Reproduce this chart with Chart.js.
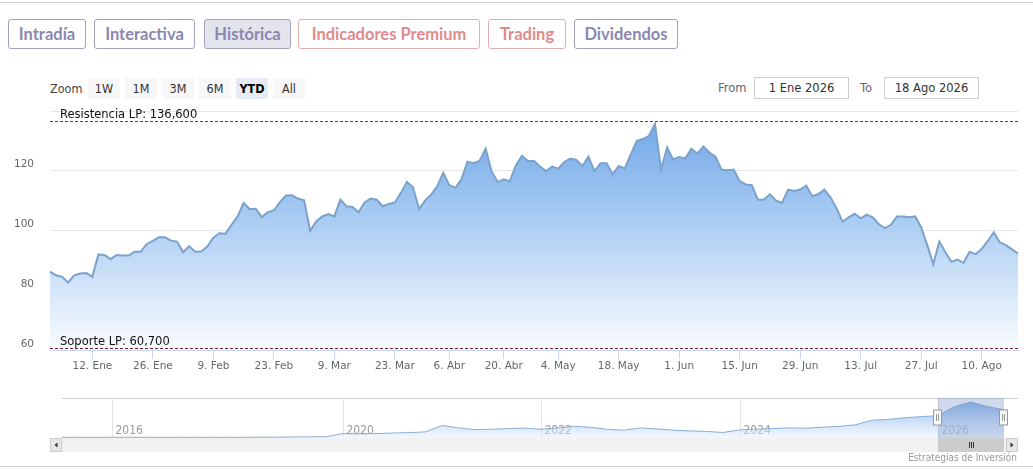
<!DOCTYPE html>
<html>
<head>
<meta charset="utf-8">
<script src="https://cdn.jsdelivr.net/npm/chart.js@4.4.1/dist/chart.umd.min.js"></script>
<style>
  body { margin: 0; background: #fff; width: 1033px; height: 474px; position: relative; overflow: hidden; }
  .hline { position: absolute; left: 0; width: 1033px; height: 1px; background: #d4d4d4; }
  .tab { position: absolute; top: 19px; height: 30px; box-sizing: border-box; border: 1px solid #a3a1bb; border-radius: 3px;
         font: 700 16.5px Lato, "Open Sans", sans-serif; color: #8a87b1; text-align: center; line-height: 28px; }
  .tab.on { background: #e4e4ec; }
  .tab.red { color: #e08b8c; border-color: #e3aeae; }
  .zlab { position: absolute; top: 80px; font: 12.5px "DejaVu Sans Condensed", "DejaVu Sans", sans-serif; color: #444; line-height: 18px; }
  .zbtn { position: absolute; top: 78px; width: 32px; height: 21px; background: #f7f7f7; text-align: center;
          font: 12.5px "DejaVu Sans Condensed", "DejaVu Sans", sans-serif; color: #333; line-height: 21px; }
  .zbtn.on { background: #e6ebf5; font-weight: bold; color: #000; }
  .dlab { position: absolute; top: 79px; font: 11.5px "DejaVu Sans", sans-serif; color: #666; line-height: 18px; }
  .dbox { position: absolute; top: 77px; height: 22px; box-sizing: border-box; border: 1px solid #ccc; background: #fff;
          font: 11.5px "DejaVu Sans", sans-serif; color: #333; text-align: center; line-height: 20px; }
  #credit { position: absolute; top: 452px; right: 16px; font: 10px "Liberation Sans Narrow", "DejaVu Sans Condensed", sans-serif; color: #999; }
</style>
</head>
<body>
<div class="hline" style="top:2px"></div>
<div class="hline" style="top:466px"></div>

<div class="tab" style="left:8px;width:78px">Intradía</div>
<div class="tab" style="left:94px;width:101px">Interactiva</div>
<div class="tab on" style="left:204px;width:87px">Histórica</div>
<div class="tab red" style="left:298px;width:182px">Indicadores Premium</div>
<div class="tab red" style="left:488px;width:78px">Trading</div>
<div class="tab" style="left:574px;width:104px">Dividendos</div>

<div class="zlab" style="left:50px">Zoom</div>
<div class="zbtn" style="left:88px">1W</div>
<div class="zbtn" style="left:125px">1M</div>
<div class="zbtn" style="left:162px">3M</div>
<div class="zbtn" style="left:199px">6M</div>
<div class="zbtn on" style="left:236px">YTD</div>
<div class="zbtn" style="left:273px">All</div>

<div class="dlab" style="left:718px">From</div>
<div class="dbox" style="left:754px;width:95px">1 Ene 2026</div>
<div class="dlab" style="left:860px">To</div>
<div class="dbox" style="left:884px;width:95px">18 Ago 2026</div>

<div style="position:absolute;left:0;top:100px;width:1033px;height:280px"><canvas id="mainChart"></canvas></div>
<div style="position:absolute;left:0;top:396px;width:1033px;height:60px"><canvas id="navChart"></canvas></div>
<div id="credit">Estrategias de Inversión</div>

<script>
// sesiones bursátiles (sin fines de semana ni festivos)
const firstDay = "2025-12-31";
const lastDay = "2026-08-18";
const holidays = ["2026-01-01", "2026-04-03", "2026-04-06", "2026-05-01"];

// cierre diario
const closes = [
  86.2, 85.0, 84.5, 82.6, 85.0, 85.6, 85.8, 84.5, 92.0, 91.8,
  90.4, 91.8, 91.6, 91.6, 92.9, 92.9, 95.5, 96.5, 97.7, 97.7,
  96.6, 96.3, 92.7, 94.8, 92.9, 93.0, 94.6, 97.6, 99.1, 98.9,
  101.9, 104.7, 109.2, 107.2, 107.3, 104.5, 106.1, 106.7, 109.5, 111.7,
  111.8, 110.7, 110.1, 99.9, 103.0, 104.7, 105.5, 104.7, 110.3, 108.1,
  107.9, 106.1, 109.4, 110.7, 110.3, 108.1, 108.9, 109.4, 112.6, 116.3,
  114.5, 107.2, 110.1, 112.0, 114.8, 119.3, 115.2, 114.3, 117.1, 123.0,
  122.5, 123.3, 127.4, 119.7, 116.2, 117.1, 116.5, 121.8, 125.0, 123.3,
  123.3, 121.4, 119.9, 121.4, 120.7, 122.9, 124.1, 123.6, 121.6, 124.7,
  119.9, 122.5, 122.5, 118.8, 121.6, 120.8, 125.5, 130.0, 130.6, 131.7,
  135.6, 120.4, 127.8, 123.8, 124.6, 124.1, 127.4, 125.8, 128.1, 126.1,
  124.7, 120.4, 120.2, 120.4, 116.5, 115.4, 115.2, 110.3, 110.3, 112.2,
  110.0, 109.2, 113.7, 113.2, 113.7, 115.0, 111.5, 112.2, 113.7, 111.1,
  107.5, 103.0, 104.4, 105.6, 104.1, 105.3, 104.4, 102.1, 100.8, 101.9,
  104.7, 104.7, 104.4, 104.7, 101.0, 95.1, 88.7, 96.3, 92.7, 89.5,
  90.3, 89.2, 92.9, 92.1, 93.8, 96.5, 99.4, 96.0, 95.1, 93.7,
  92.3
];

const tickDates = ["2026-01-12", "2026-01-26", "2026-02-09", "2026-02-23", "2026-03-09", "2026-03-23",
  "2026-04-06", "2026-04-20", "2026-05-04", "2026-05-18", "2026-06-01", "2026-06-15",
  "2026-06-29", "2026-07-13", "2026-07-27", "2026-08-10"];
const tickLabels = ["12. Ene", "26. Ene", "9. Feb", "23. Feb", "9. Mar", "23. Mar",
  "6. Abr", "20. Abr", "4. May", "18. May", "1. Jun", "15. Jun",
  "29. Jun", "13. Jul", "27. Jul", "10. Ago"];
const yTicks = [60, 80, 100, 120];

const resistencia = 136.6;
const soporte = 60.7;

// navegador: historico largo
const navPeriods = [
  "2015-05", "2015-08", "2015-11", "2016-01", "2016-05", "2016-08", "2016-11", "2017-03", "2017-06", "2017-09",
  "2018-01", "2018-04", "2018-07", "2018-11", "2019-02", "2019-05", "2019-09",
  "2020-01", "2020-03", "2020-05", "2020-07", "2020-09", "2020-11",
  "2021-01", "2021-03", "2021-05", "2021-07", "2021-09", "2021-11",
  "2022-01", "2022-03", "2022-05", "2022-07", "2022-09", "2022-11",
  "2023-01", "2023-03", "2023-05", "2023-07", "2023-09", "2023-11",
  "2024-01", "2024-03", "2024-05", "2024-07", "2024-09", "2024-11",
  "2025-01", "2025-03", "2025-05", "2025-07", "2025-09", "2025-11",
  "2026-01", "2026-03", "2026-05", "2026-07", "2026-08"
];
const navValues = [
  10, 10, 10, 10, 10, 10, 10, 10, 10, 10,
  10, 10, 10.2, 10.5, 11, 11.5, 12,
  23, 22, 23, 25, 26.5, 29,
  52, 43, 37, 38.5, 40.7, 42.5,
  38.5, 43, 48.5, 45, 38, 35,
  43, 39.6, 35, 32.4, 30.6, 27,
  36, 38.5, 40.7, 43, 42, 45.6,
  48.5, 54, 70, 73, 79, 83,
  86, 118, 134, 118, 107
];
const navYears = ["2016", "2020", "2022", "2024", "2026"];
const navSelFrom = "2026-01";

function buildDays() {
  const out = [];
  let t = Date.parse(firstDay + "T00:00:00Z");
  const end = Date.parse(lastDay + "T00:00:00Z");
  while (t <= end) {
    const d = new Date(t);
    const wd = d.getUTCDay();
    const iso = d.toISOString().slice(0, 10);
    if (wd !== 0 && wd !== 6 && !holidays.includes(iso)) out.push(iso);
    t += 86400000;
  }
  return out;
}
const days = buildDays();
const tickIdx = tickDates.map(t => days.findIndex(d => d >= t));

const axisFont = { family: "'DejaVu Sans', sans-serif", size: 10.5 };

const levelLines = {
  id: "levelLines",
  afterDatasetsDraw(chart) {
    const { ctx, chartArea, scales } = chart;
    const lines = [
      { v: resistencia, color: "#24602a", text: "Resistencia LP: 136,600" },
      { v: soporte, color: "#6e2222", text: "Soporte LP: 60,700" },
    ];
    ctx.save();
    lines.forEach(l => {
      const y = Math.round(scales.y.getPixelForValue(l.v)) + 0.5;
      ctx.strokeStyle = l.color;
      ctx.lineWidth = 1;
      ctx.setLineDash([3, 2]);
      ctx.beginPath();
      ctx.moveTo(chartArea.left, y);
      ctx.lineTo(chartArea.right, y);
      ctx.stroke();
      ctx.setLineDash([]);
      ctx.fillStyle = "#111";
      ctx.font = "11.5px 'DejaVu Sans', sans-serif";
      ctx.textBaseline = "alphabetic";
      ctx.fillText(l.text, chartArea.left + 10, y - 4);
    });
    ctx.restore();
  },
};

new Chart(document.getElementById("mainChart"), {
  type: "line",
  data: {
    labels: days,
    datasets: [
      {
        data: closes,
        borderColor: "#7aa2cd",
        borderWidth: 2,
        pointRadius: 0,
        tension: 0,
        fill: "start",
        backgroundColor: (c) => {
          const area = c.chart.chartArea;
          if (!area) return "rgba(124,170,228,0.5)";
          const g = c.chart.ctx.createLinearGradient(0, area.top, 0, area.bottom);
          g.addColorStop(0, "rgb(108,164,230)");
          g.addColorStop(0.5, "rgb(176,208,243)");
          g.addColorStop(1, "rgb(250,252,255)");
          return g;
        },
      },
    ],
  },
  options: {
    responsive: true,
    maintainAspectRatio: false,
    animation: false,
    layout: { padding: { top: 11, right: 15, left: 0, bottom: 0 } },
    plugins: { legend: { display: false }, tooltip: { enabled: false } },
    scales: {
      x: {
        type: "category",
        offset: false,
        grid: { drawOnChartArea: false, drawTicks: true, tickLength: 9, color: "#ccd6eb" },
        border: { display: true, color: "#ccd6eb" },
        ticks: {
          autoSkip: false,
          maxRotation: 0,
          padding: 1,
          color: "#666",
          font: axisFont,
          callback: (v, i) => {
            const k = tickIdx.indexOf(i);
            return k >= 0 ? tickLabels[k] : null;
          },
        },
        afterFit: (s) => { s.height = 30; },
      },
      y: {
        min: 60,
        max: 140,
        // marcas invisibles: solo separan las etiquetas del eje
        grid: { color: "#e6e6e6", drawTicks: true, tickLength: 16, tickColor: "rgba(0,0,0,0)" },
        border: { display: false },
        ticks: {
          stepSize: 20,
          padding: 0,
          labelOffset: -6,
          color: "#666",
          font: axisFont,
          callback: (v) => (yTicks.includes(v) ? String(v) : ""),
        },
        afterFit: (s) => { s.width = 50; },
      },
    },
  },
  plugins: [levelLines],
});

// navegador + barra de desplazamiento
const navYearIdx = navYears.map(y => navPeriods.indexOf(y + "-01"));
const navExtras = {
  id: "navExtras",
  beforeDatasetsDraw(chart) {
    const { ctx, chartArea, scales } = chart;
    ctx.save();
    ctx.strokeStyle = "#e3e3e3";
    ctx.lineWidth = 1;
    ctx.fillStyle = "#999";
    ctx.font = "12px 'DejaVu Sans Condensed', 'DejaVu Sans', sans-serif";
    navYearIdx.forEach((i, k) => {
      const x = Math.round(scales.x.getPixelForValue(i)) + 0.5;
      ctx.beginPath();
      ctx.moveTo(x, chartArea.top);
      ctx.lineTo(x, chartArea.bottom);
      ctx.stroke();
      ctx.fillText(navYears[k], x + 3, chartArea.bottom - 4);
    });
    ctx.restore();
  },
  afterDatasetsDraw(chart) {
    const { ctx, chartArea, scales } = chart;
    const x0 = scales.x.getPixelForValue(navPeriods.indexOf(navSelFrom));
    const x1 = scales.x.getPixelForValue(navPeriods.length - 1);
    const top = chartArea.top, bot = chartArea.bottom;
    ctx.save();
    // outline superior
    ctx.strokeStyle = "#cfcfcf";
    ctx.beginPath();
    ctx.moveTo(chartArea.left, top + 0.5);
    ctx.lineTo(chartArea.right + 14, top + 0.5);
    ctx.stroke();
    // zona seleccionada
    ctx.fillStyle = "rgba(102,133,194,0.3)";
    ctx.fillRect(x0, top, x1 - x0, bot - top);
    // barra
    const sy = bot, sh = 14;
    const sl = chartArea.left - 12, sr = chartArea.right + 14;
    ctx.fillStyle = "#f2f2f2";
    ctx.fillRect(sl, sy, sr - sl, sh);
    ctx.fillStyle = "#cccccc";
    ctx.fillRect(x0, sy, x1 - x0, sh);
    ctx.strokeStyle = "#333";
    const cx = Math.round((x0 + x1) / 2);
    [-2, 0, 2].forEach(d => {
      ctx.beginPath();
      ctx.moveTo(cx + d + 0.5, sy + 4);
      ctx.lineTo(cx + d + 0.5, sy + 10);
      ctx.stroke();
    });
    [[sl, 1], [sr - 12, -1]].forEach(([bx, dir]) => {
      ctx.fillStyle = "#e6e6e6";
      ctx.fillRect(bx, sy, 12, sh);
      ctx.strokeStyle = "#cccccc";
      ctx.strokeRect(bx + 0.5, sy + 0.5, 11, sh - 1);
      ctx.fillStyle = "#333";
      const ax = bx + 6;
      ctx.beginPath();
      ctx.moveTo(ax - 1.5 * dir, sy + 7);
      ctx.lineTo(ax + 1.5 * dir, sy + 4.5);
      ctx.lineTo(ax + 1.5 * dir, sy + 9.5);
      ctx.closePath();
      ctx.fill();
    });
    // asas
    [x0, x1].forEach(hx => {
      const rx = Math.round(hx) - 4.5;
      ctx.fillStyle = "#f8f8f8";
      ctx.fillRect(rx, top + 12, 8, 15);
      ctx.strokeStyle = "#999";
      ctx.strokeRect(rx, top + 12, 8, 15);
      ctx.beginPath();
      ctx.moveTo(rx + 3, top + 16); ctx.lineTo(rx + 3, top + 23);
      ctx.moveTo(rx + 5, top + 16); ctx.lineTo(rx + 5, top + 23);
      ctx.stroke();
    });
    ctx.restore();
  },
};

new Chart(document.getElementById("navChart"), {
  type: "line",
  data: {
    labels: navPeriods,
    datasets: [
      {
        data: navValues,
        borderColor: "#8aaed3",
        borderWidth: 1,
        pointRadius: 0,
        tension: 0,
        fill: "start",
        backgroundColor: (c) => {
          const area = c.chart.chartArea;
          if (!area) return "rgba(124,170,228,0.3)";
          const g = c.chart.ctx.createLinearGradient(0, area.top, 0, area.bottom);
          g.addColorStop(0, "rgba(108,164,230,0.9)");
          g.addColorStop(1, "rgba(230,240,252,0.5)");
          return g;
        },
      },
    ],
  },
  options: {
    responsive: true,
    maintainAspectRatio: false,
    animation: false,
    layout: { padding: { top: 2, right: 29, left: 62, bottom: 18 } },
    plugins: { legend: { display: false }, tooltip: { enabled: false } },
    scales: {
      x: { type: "category", display: false, offset: false },
      y: { display: false, min: 7.5, max: 148.5 },
    },
  },
  plugins: [navExtras],
});
</script>
</body>
</html>
